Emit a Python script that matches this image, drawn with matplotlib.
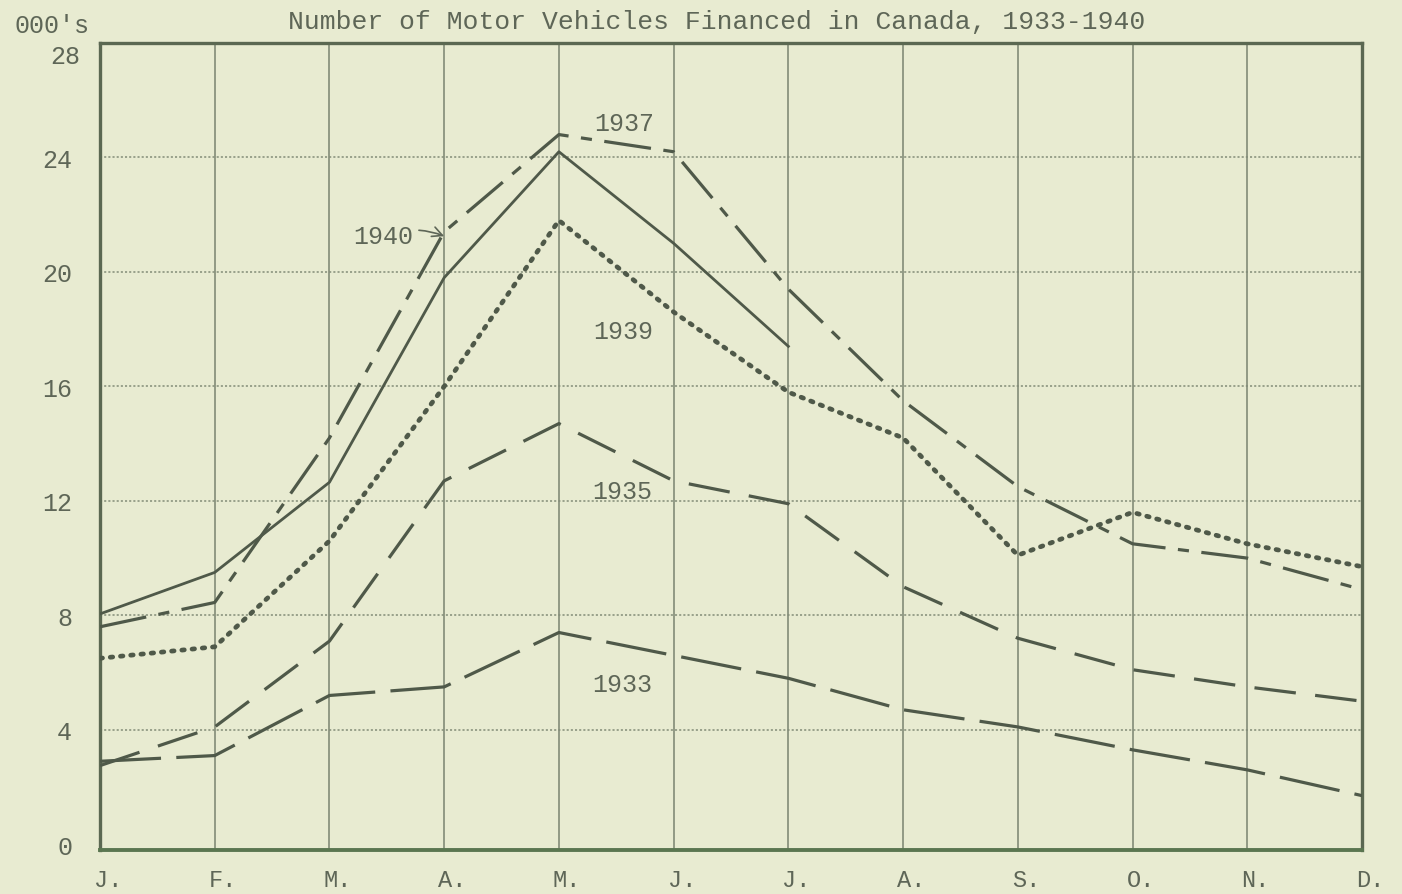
import matplotlib.pyplot as plt
import matplotlib.transforms as mtransforms
import numpy as np

plt.rcParams['font.family'] = ['Liberation Mono', 'DejaVu Sans Mono']
plt.rcParams['lines.scale_dashes'] = False

# Valores (milhares de veículos)
months = ['J.', 'F.', 'M.', 'A.', 'M.', 'J.', 'J.', 'A.', 'S.', 'O.', 'N.', 'D.']
v1933 = [2.9, 3.1, 5.2, 5.5, 7.4, 6.6, 5.8, 4.7, 4.1, 3.3, 2.6, 1.7]
v1935 = [2.75, 4.1, 7.1, 12.7, 14.7, 12.7, 11.9, 9.0, 7.2, 6.1, 5.5, 5.0]
v1937 = [7.6, 8.45, 14.2, 21.4, 24.8, 24.2, 19.4, 15.5, 12.5, 10.5, 10.0, 8.9]
v1939 = [6.5, 6.9, 10.6, 16.0, 21.8, 18.6, 15.8, 14.2, 10.1, 11.6, 10.5, 9.7]
v1940 = [8.05, 9.5, 12.65, 19.8, 24.2, 21.0, 17.4]
y_ticks = [0, 4, 8, 12, 16, 20, 24, 28]

bg = '#e8ebd1'
ink = '#4f5949'
txt = '#5e6657'
grid_c = '#838c78'

fig = plt.figure(figsize=(14.02, 8.95), dpi=100, facecolor=bg)
ax = fig.add_axes([100 / 1402, 1 - 851 / 895, 1262 / 1402, (851 - 44) / 895])
ax.set_facecolor(bg)

x = np.arange(len(months))

# Grade
for xi in x[1:-1]:
    ax.axvline(xi, color=grid_c, lw=1.2, zorder=1)
for yi in y_ticks[1:-1]:
    ax.axhline(yi, color=grid_c, lw=1.1, linestyle=(0, (1.5, 1.5)), zorder=1)

# Séries
lw = 2.3
ax.plot(x, v1933, color=ink, lw=lw, linestyle=(0, (44, 11)), zorder=3)
ax.plot(x, v1935, color=ink, lw=lw, linestyle=(0, (30, 14)), zorder=3)
ax.plot(x, v1937, color=ink, lw=lw, linestyle=(0, (34, 9, 8, 9)), zorder=3)
ax.plot(x, v1939, color=ink, lw=3.4, linestyle=(0, (1.8, 5.6)),
        dash_capstyle='round', zorder=3)
ax.plot(x[:len(v1940)], v1940, color=ink, lw=2.0, zorder=3)

# Rótulos das séries
lab = dict(color=txt, fontsize=18, ha='center', va='center', zorder=4)
ax.text(4.57, 25.2, '1937', **lab)
ax.text(4.56, 17.93, '1939', **lab)
ax.text(4.55, 12.34, '1935', **lab)
ax.text(4.55, 5.61, '1933', **lab)
ax.annotate('1940', xy=(3.0, 21.25), xytext=(2.47, 21.25), color=txt,
            fontsize=18, ha='center', va='center', zorder=4,
            arrowprops=dict(arrowstyle='->', color=txt, lw=1.2,
                            shrinkA=2, shrinkB=0,
                            connectionstyle='arc3,rad=-0.2'))

ax.set_xlim(0, 11)
ax.set_ylim(-0.2, 28)
ax.set_xticks(x)
ax.set_xticklabels(months)
ax.set_yticks(y_ticks)
ax.set_yticklabels([str(v) for v in y_ticks[:-1]] + [''])
ax.tick_params(axis='both', length=0, labelsize=18, colors=txt)
ax.tick_params(axis='x', pad=13, labelsize=17)
ax.tick_params(axis='y', pad=20)

# rótulos dos meses levemente deslocados para a direita
shift = mtransforms.ScaledTranslation(8 / 100, 0, fig.dpi_scale_trans)
for lbl in ax.get_xticklabels():
    lbl.set_transform(lbl.get_transform() + shift)

# o "28" fica um pouco abaixo do topo, como no original
t28 = mtransforms.offset_copy(ax.get_yaxis_transform(), fig=fig,
                              x=-20, y=-13, units='dots')
ax.text(0, y_ticks[-1], str(y_ticks[-1]), transform=t28, color=txt,
        fontsize=18, ha='right', va='center')

for side in ['left', 'right', 'top']:
    ax.spines[side].set_color('#5b6852')
    ax.spines[side].set_linewidth(2.4)
ax.spines['bottom'].set_color('#5a7650')
ax.spines['bottom'].set_linewidth(2.8)

fig.text(717 / 1402, 1 - 22 / 895,
         'Number of Motor Vehicles Financed in Canada, 1933-1940',
         color=txt, fontsize=19, ha='center', va='center')
fig.text(15 / 1402, 1 - 26 / 895, "000's", color=txt, fontsize=18,
         ha='left', va='center')

fig.savefig('out.png', dpi=100, facecolor=bg)
